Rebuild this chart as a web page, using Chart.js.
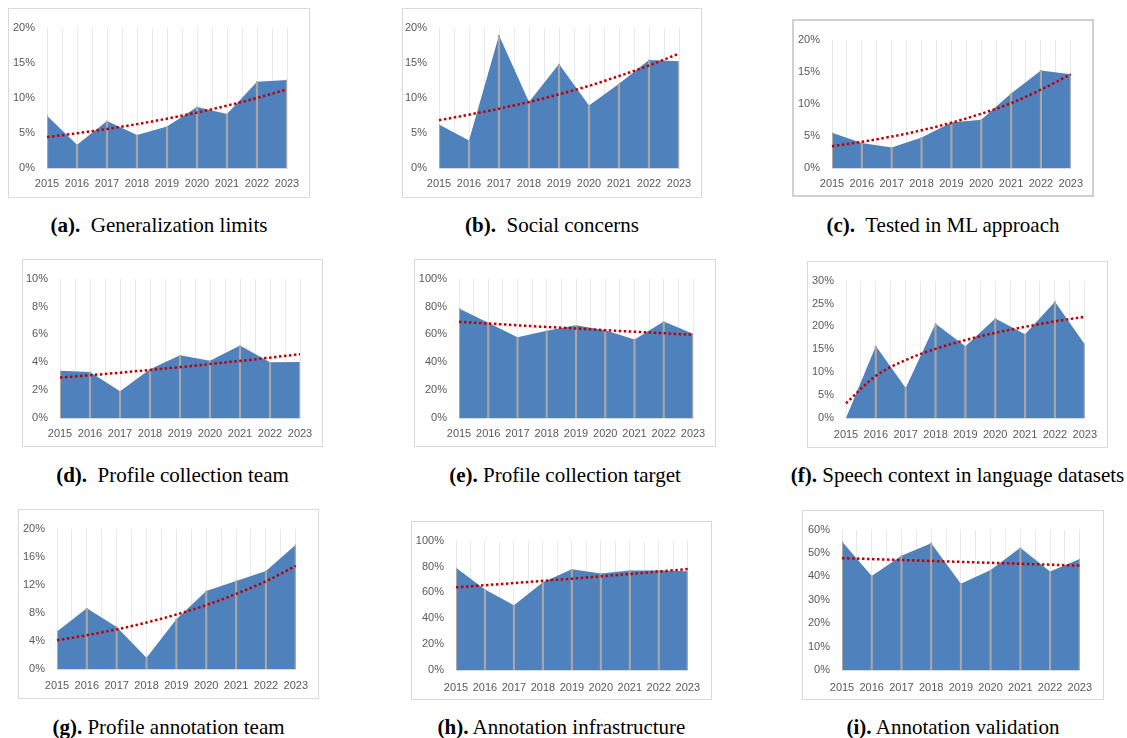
<!DOCTYPE html>
<html>
<head>
<meta charset="utf-8">
<script src="https://cdn.jsdelivr.net/npm/chart.js@4.4.0/dist/chart.umd.min.js"></script>
<style>
  body { margin: 0; background: #fff; width: 1127px; height: 738px; position: relative; overflow: hidden; }
  .box { position: absolute; box-sizing: border-box; border: 1px solid #d9d9d9; background: #fff; }
  .box canvas { position: absolute; left: 0; top: 0; }
  .cap { position: absolute; text-align: center; font-family: "Liberation Serif", "Times New Roman", serif;
         font-size: 21px; line-height: 24px; height: 24px; color: #000; white-space: nowrap; }
</style>
</head>
<body>
<script>
const years = ['2015', '2016', '2017', '2018', '2019', '2020', '2021', '2022', '2023'];

// values in percent
const generalizationLimits = [7.45, 3.3, 6.7, 4.7, 5.9, 8.7, 7.7, 12.3, 12.55];
const generalizationTrend  = [4.4, 4.95, 5.56, 6.25, 7.03, 7.9, 8.88, 9.98, 11.2];

const socialConcerns = [6.2, 3.9, 18.9, 9.4, 14.8, 8.9, 12.0, 15.4, 15.2];
const socialTrend    = [6.8, 7.6, 8.45, 9.4, 10.5, 11.7, 13.1, 14.6, 16.3];

const testedMl      = [5.5, 3.9, 3.2, 4.75, 7.1, 7.5, 11.6, 15.2, 14.6];
const testedMlTrend = [3.4, 4.08, 4.9, 5.87, 7.05, 8.45, 10.1, 12.2, 14.6];

const collectionTeam      = [3.39, 3.3, 1.92, 3.5, 4.5, 4.1, 5.2, 4.0, 4.02];
const collectionTeamTrend = [2.9, 3.07, 3.25, 3.45, 3.65, 3.87, 4.09, 4.33, 4.58];

const collectionTarget      = [78.6, 68.3, 57.9, 62.6, 66.5, 63.0, 56.3, 69.2, 60.4];
const collectionTargetTrend = [69.0, 67.8, 66.5, 65.3, 64.2, 63.0, 61.9, 60.8, 59.7];

const speechContext      = [0, 15.7, 6.55, 20.6, 15.65, 21.7, 18.3, 25.4, 16.1];
const speechContextTrend = [3.2, 9.2, 12.65, 15.1, 17.0, 18.6, 19.9, 21.1, 22.1];

const annotationTeam      = [5.35, 8.65, 6.0, 1.6, 7.1, 11.1, 12.55, 13.95, 17.7];
const annotationTeamTrend = [4.1, 4.81, 5.64, 6.62, 7.76, 9.1, 10.7, 12.5, 14.7];

const annotationInfra      = [79.0, 62.2, 50.0, 67.8, 77.8, 74.6, 76.8, 76.8, 76.3];
const annotationInfraTrend = [63.9, 65.5, 67.2, 68.9, 70.6, 72.4, 74.2, 76.1, 78.0];

const annotationValidation      = [54.9, 40.2, 48.8, 54.2, 36.9, 42.7, 52.2, 42.1, 47.4];
const annotationValidationTrend = [47.8, 47.4, 47.0, 46.6, 46.2, 45.8, 45.4, 45.0, 44.6];

const yMax  = [20, 20, 20, 10, 100, 30, 20, 100, 60];
const yStep = [5, 5, 5, 2, 20, 5, 4, 20, 10];

const letters = ['(a).', '(b).', '(c).', '(d).', '(e).', '(f).', '(g).', '(h).', '(i).'];
const titles = ['Generalization limits', 'Social concerns', 'Tested in ML approach',
                'Profile collection team', 'Profile collection target', 'Speech context in language datasets',
                'Profile annotation team', 'Annotation infrastructure', 'Annotation validation'];

const series = [generalizationLimits, socialConcerns, testedMl, collectionTeam, collectionTarget,
                speechContext, annotationTeam, annotationInfra, annotationValidation];
const trends = [generalizationTrend, socialTrend, testedMlTrend, collectionTeamTrend, collectionTargetTrend,
                speechContextTrend, annotationTeamTrend, annotationInfraTrend, annotationValidationTrend];

// page layout: outer box, plot area, label gap, caption centre
const layout = [
  { box: [8, 8, 310, 198],      plot: [47, 21, 287, 168],   gap: 9,  cap: 225, bw: 1, sp: '\u00a0 ' },
  { box: [402, 8, 702, 198],    plot: [439, 21, 679, 168],  gap: 9,  cap: 225, bw: 1, sp: '\u00a0 ' },
  { box: [792, 19, 1094, 197],  plot: [832, 32, 1072, 168], gap: 9,  cap: 225, bw: 2, sp: '\u00a0 ' },
  { box: [22, 259, 323, 447],   plot: [60, 271, 300, 418],  gap: 9,  cap: 475, bw: 1, sp: '\u00a0 ' },
  { box: [414, 259, 716, 447],  plot: [459, 272, 693, 418], gap: 9,  cap: 475, bw: 1, sp: ' ' },
  { box: [807, 261, 1108, 448], plot: [846, 273, 1086, 418], gap: 10, cap: 475, bw: 1, sp: ' ' },
  { box: [18, 509, 319, 699],   plot: [57, 521, 297, 669],  gap: 10, cap: 727, bw: 1, sp: ' ' },
  { box: [411, 521, 712, 700],  plot: [456, 533, 690, 670], gap: 11, cap: 727, bw: 1, sp: ' ' },
  { box: [802, 510, 1104, 700], plot: [842, 522, 1081, 670], gap: 11, cap: 727, bw: 1, sp: ' ' }
];

const tickFont = { family: 'Liberation Sans, Arial, sans-serif', size: 11 };
const tickColor = '#595959';

layout.forEach((L, i) => {
  const [bx0, by0, bx1, by1] = L.box;
  const [px0, py0, px1, py1] = L.plot;
  const div = document.createElement('div');
  div.className = 'box';
  div.style.left = bx0 + 'px';
  div.style.top = by0 + 'px';
  div.style.width = (bx1 - bx0) + 'px';
  div.style.height = (by1 - by0) + 'px';
  div.style.borderWidth = L.bw + 'px';
  if (L.bw > 1) div.style.borderColor = '#d0d0d0';
  document.body.appendChild(div);

  const cw = bx1 - bx0 - 2 * L.bw;
  const ch = by1 - by0 - 2 * L.bw;
  const cx = bx0 + L.bw, cy = by0 + L.bw;
  const canvas = document.createElement('canvas');
  canvas.width = cw;
  canvas.height = ch;
  canvas.style.width = cw + 'px';
  canvas.style.height = ch + 'px';
  div.appendChild(canvas);

  const cap = document.createElement('div');
  cap.className = 'cap';
  cap.style.left = (bx0 - 60) + 'px';
  cap.style.width = (bx1 - bx0 + 120) + 'px';
  cap.style.top = (L.cap - 12) + 'px';
  cap.innerHTML = '<b>' + letters[i] + '</b>' + L.sp + titles[i];
  document.body.appendChild(cap);

  const yW = px0 - cx;
  const xH = (cy + ch) - py1;

  new Chart(canvas, {
    data: {
      labels: years,
      datasets: [
        {
          type: 'line', data: trends[i], borderColor: '#c00000', borderWidth: 2.5,
          borderDash: [2.5, 2.5], pointRadius: 0, fill: false, order: 0,
          cubicInterpolationMode: 'monotone'
        },
        {
          type: 'bar', data: series[i], backgroundColor: '#a6a6a6',
          barThickness: 1.5, order: 1
        },
        {
          type: 'line', data: series[i], backgroundColor: '#4f81bd', borderWidth: 0,
          pointRadius: 0, fill: 'origin', tension: 0, order: 2
        }
      ]
    },
    options: {
      responsive: false,
      animation: false,
      events: [],
      plugins: { legend: { display: false }, tooltip: { enabled: false } },
      layout: { padding: { left: 0, top: py0 - cy, right: (cx + cw) - px1, bottom: 0 } },
      scales: {
        x: {
          type: 'category', offset: false,
          grid: { color: '#e9e9e9', drawTicks: false, offset: false },
          border: { color: '#d9d9d9' },
          ticks: { font: tickFont, color: tickColor, padding: L.gap, maxRotation: 0, autoSkip: false },
          afterFit: s => { s.height = xH; }
        },
        x2: {
          type: 'category', offset: false, position: 'top',
          grid: { color: '#e9e9e9', drawTicks: false, offset: true },
          border: { display: false },
          ticks: { display: false },
          afterFit: s => { s.height = 0; }
        },
        y: {
          min: 0, max: yMax[i],
          grid: { display: false, drawTicks: false },
          border: { display: false },
          ticks: { stepSize: yStep[i], font: tickFont, color: tickColor, padding: 12,
                   callback: v => v + '%' },
          afterFit: s => { s.width = yW; }
        }
      }
    }
  });
});
</script>
</body>
</html>
